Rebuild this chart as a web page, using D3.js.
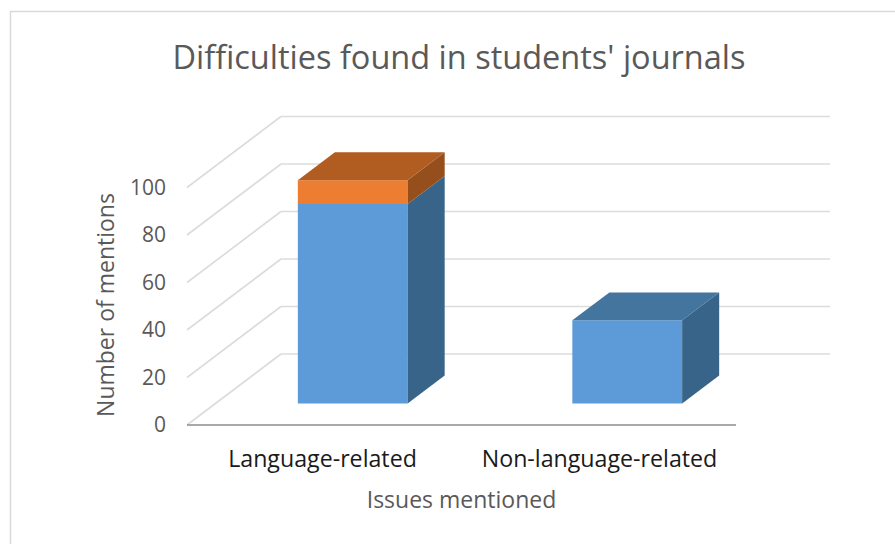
<!DOCTYPE html>
<html><head><meta charset="utf-8">
<style>html,body{margin:0;padding:0;background:#fff}svg{display:block}text{font-family:"Open Sans",sans-serif}</style>
<script src="https://cdn.jsdelivr.net/npm/d3@7"></script></head>
<body><svg id="c" width="895" height="544"></svg>
<script>
const categories=["Language-related","Non-language-related"];
const seriesBlue=[84,35];
const seriesOrange=[10,0];
const yTicks=[0,20,40,60,80,100];
const chartTitle="Difficulties found in students' journals";
const xTitle="Issues mentioned";
const yTitle="Number of mentions";

const svg=d3.select("#c");
svg.append("path").attr("d","M10.5,544V11.5H895").attr("fill","none").attr("stroke","#d9d9d9").attr("stroke-width",1.5);

const x=d3.scaleBand().domain(categories).range([187,736]).paddingInner(0).paddingOuter(0);
const labelX=d3.scalePoint().domain(categories).range([322.5,599.5]);
const y=d3.scaleLinear().domain([0,100]).range([425,187.5]);
const depth=d3.scaleLinear().domain([0,1]).range([[0,0],[94,-71]]);
const P=(px,val,v)=>{const d=depth(v);return [px+d[0],y(val)+d[1]];};
const poly=(pts,fill)=>svg.append("polygon").attr("points",pts.map(p=>p.join(",")).join(" ")).attr("fill",fill);
const line=(a,b,col,w)=>svg.append("line").attr("x1",a[0]).attr("y1",a[1]).attr("x2",b[0]).attr("y2",b[1]).attr("stroke",col).attr("stroke-width",w);

const x0=x.range()[0],x1=x.range()[1];
yTicks.forEach(t=>{
  line(P(x0,t,0),P(x0,t,1),"#dcdcdc",1.7);
  line(P(x0,t,1),P(x1,t,1),"#dcdcdc",1.7);
});
line(P(x0,0,0),P(x1,0,0),"#8c8c8c",1.7);

const bw=x.bandwidth()*0.4, v0=0.303, v1=0.697;
function box(cat,lo,hi,front,side,top,drawTop){
  const a=x(cat)+x.bandwidth()/2-bw/2,b=a+bw;
  poly([P(a,lo,v0),P(b,lo,v0),P(b,hi,v0),P(a,hi,v0)],front);
  poly([P(b,lo,v0),P(b,lo,v1),P(b,hi,v1),P(b,hi,v0)],side);
  if(drawTop)poly([P(a,hi,v0),P(b,hi,v0),P(b,hi,v1),P(a,hi,v1)],top);
}
categories.forEach((c,i)=>{
  const h=seriesBlue[i],o=seriesOrange[i];
  box(c,0,h,"#5d9bd8","#376488","#44759f",o===0);
  if(o>0)box(c,h,h+o,"#ed7d31","#954f1c","#b15c20",true);
});

const text=(s,tx,ty,size,col,anchor)=>svg.append("text").attr("x",tx).attr("y",ty).attr("font-size",size).attr("fill",col).attr("text-anchor",anchor||"middle").text(s);
text(chartTitle,459,69,32.5,"#595959");
yTicks.forEach(t=>text(t,166,y(t)+7,21,"#595959","end"));
categories.forEach(c=>text(c,labelX(c),467,23.2,"#1a1a1a"));
text(xTitle,461.5,508,23,"#595959");
svg.append("text").attr("transform","translate(114,305) rotate(-90)").attr("text-anchor","middle").attr("font-size",23).attr("fill","#595959").text(yTitle);
</script></body></html>
